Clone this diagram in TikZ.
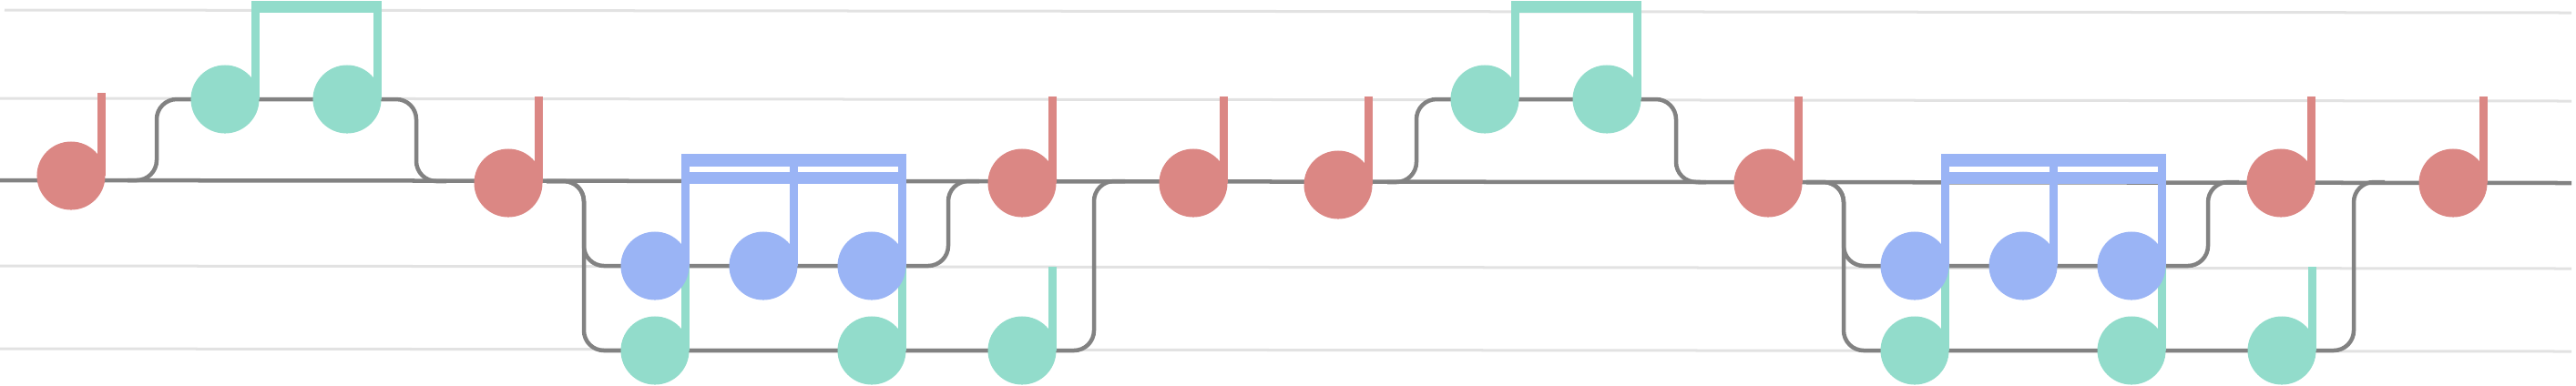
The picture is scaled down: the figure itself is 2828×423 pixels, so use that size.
\documentclass[tikz,border=0pt]{standalone}
\definecolor{notered}{HTML}{DB8784}
\definecolor{noteteal}{HTML}{92DCCB}
\definecolor{noteblue}{HTML}{9AB4F5}
\definecolor{wiregray}{HTML}{828282}
\definecolor{staffgray}{HTML}{E2E2E2}
\pgfdeclarelayer{back}
\pgfsetlayers{back,main}
\begin{document}
\begin{tikzpicture}[x=0.01cm, y=-0.01cm]
    \tikzstyle{staff_style} = [draw=staffgray, line width=0.03cm]
    \tikzstyle{wire_style} = [draw=wiregray, line width=0.045cm, rounded corners=0.22cm]
    \tikzstyle{head_style} = [circle, minimum size=0.75cm, inner sep=0pt]
    \tikzstyle{red_head} = [head_style, fill=notered]
    \tikzstyle{teal_head} = [head_style, fill=noteteal]
    \tikzstyle{blue_head} = [head_style, fill=noteblue]
    \tikzstyle{red_stem} = [draw=notered, line width=0.09cm]
    \tikzstyle{teal_stem} = [draw=noteteal, line width=0.09cm]
    \tikzstyle{blue_stem} = [draw=noteblue, line width=0.09cm]
    \useasboundingbox (0,0) rectangle (2828,423);

    % first bar
    \node[red_head] (r1) at (78,193) {};
    \draw[red_stem] ([xshift=0.33cm]r1.center) -- ++(0,-91);
    \node[teal_head] (t1) at (247,109) {};
    \node[teal_head] (t2) at (381,109) {};
    \draw[teal_stem] ([xshift=0.335cm]t1.center) -- ++(0,-108);
    \draw[teal_stem] ([xshift=0.335cm]t2.center) -- ++(0,-108);
    \fill[noteteal] (276,1) rectangle (419,14);
    \node[red_head] (r2) at (558,201) {};
    \draw[red_stem] ([xshift=0.33cm]r2.center) -- ++(0,-95);
    \node[teal_head] (t3) at (719,385) {};
    \node[teal_head] (t4) at (957,385) {};
    \draw[teal_stem] ([xshift=0.33cm]t3.center) -- ++(0,-93);
    \draw[teal_stem] ([xshift=0.33cm]t4.center) -- ++(0,-93);
    \node[blue_head] (b1) at (719,292) {};
    \node[blue_head] (b2) at (838,292) {};
    \node[blue_head] (b3) at (957,292) {};
    \draw[blue_stem] ([xshift=0.33cm]b1.center) -- ++(0,-123);
    \draw[blue_stem] ([xshift=0.33cm]b2.center) -- ++(0,-123);
    \draw[blue_stem] ([xshift=0.33cm]b3.center) -- ++(0,-123);
    \fill[noteblue] (748,169) rectangle (995,183);
    \fill[noteblue] (748,189) rectangle (995,202);
    \node[teal_head] (t5) at (1122,385) {};
    \draw[teal_stem] ([xshift=0.33cm]t5.center) -- ++(0,-92);
    \node[red_head] (r3) at (1122,201) {};
    \draw[red_stem] ([xshift=0.33cm]r3.center) -- ++(0,-95);
    \node[red_head] (r4) at (1310,201) {};
    \draw[red_stem] ([xshift=0.33cm]r4.center) -- ++(0,-95);

    % second bar
    \node[red_head] (r5) at (1469,203) {};
    \draw[red_stem] ([xshift=0.33cm]r5.center) -- ++(0,-97);
    \node[teal_head] (t6) at (1630,109) {};
    \node[teal_head] (t7) at (1764,109) {};
    \draw[teal_stem] ([xshift=0.335cm]t6.center) -- ++(0,-108);
    \draw[teal_stem] ([xshift=0.335cm]t7.center) -- ++(0,-108);
    \fill[noteteal] (1659,1) rectangle (1802,14);
    \node[red_head] (r6) at (1941,201) {};
    \draw[red_stem] ([xshift=0.33cm]r6.center) -- ++(0,-95);
    \node[teal_head] (t8) at (2102,385) {};
    \node[teal_head] (t9) at (2340,385) {};
    \draw[teal_stem] ([xshift=0.33cm]t8.center) -- ++(0,-93);
    \draw[teal_stem] ([xshift=0.33cm]t9.center) -- ++(0,-93);
    \node[blue_head] (b4) at (2102,292) {};
    \node[blue_head] (b5) at (2221,292) {};
    \node[blue_head] (b6) at (2340,292) {};
    \draw[blue_stem] ([xshift=0.33cm]b4.center) -- ++(0,-123);
    \draw[blue_stem] ([xshift=0.33cm]b5.center) -- ++(0,-123);
    \draw[blue_stem] ([xshift=0.33cm]b6.center) -- ++(0,-123);
    \fill[noteblue] (2131,169) rectangle (2378,183);
    \fill[noteblue] (2131,189) rectangle (2378,202);
    \node[teal_head] (t10) at (2505,385) {};
    \draw[teal_stem] ([xshift=0.33cm]t10.center) -- ++(0,-92);
    \node[red_head] (r7) at (2504,201) {};
    \draw[red_stem] ([xshift=0.33cm]r7.center) -- ++(0,-95);
    \node[red_head] (r8) at (2693,201) {};
    \draw[red_stem] ([xshift=0.33cm]r8.center) -- ++(0,-95);

    % split and join points of the wires
    \coordinate (w0) at (0,198);
    \coordinate (w1) at (2823,201);
    \coordinate (s1) at (140,198);
    \coordinate (s2) at (172,198);
    \coordinate (s3) at (457,199);
    \coordinate (s4) at (490,199);
    \coordinate (s5) at (600,199);
    \coordinate (s6) at (641,199);
    \coordinate (s7) at (1041,199);
    \coordinate (s8) at (1075,199);
    \coordinate (s9) at (1201,199);
    \coordinate (s10) at (1235,199);
    \coordinate (s11) at (1523,200);
    \coordinate (s12) at (1555,200);
    \coordinate (s13) at (1840,200);
    \coordinate (s14) at (1873,200);
    \coordinate (s15) at (1983,200);
    \coordinate (s16) at (2024,200);
    \coordinate (s17) at (2424,200);
    \coordinate (s18) at (2458,200);
    \coordinate (s19) at (2584,200);
    \coordinate (s20) at (2618,200);

    \begin{pgfonlayer}{back}
    \draw[staff_style] (5,11) -- (2823,14);
    \draw[staff_style] (0,108) -- (2823,111);
    \draw[staff_style] (0,292) -- (2823,295);
    \draw[staff_style] (0,383) -- (2823,386);

    \draw[wire_style] (w0) -- (w1);
    \draw[wire_style] (s1) -- (s2) |- (t1.center) -- (t2.center) -| (s3) -- (s4);
    \draw[wire_style] (s5) -- (s6) |- (b1.center) -- (b2.center) -- (b3.center) -| (s7) -- (s8);
    \draw[wire_style] (s5) -- (s6) |- (t3.center) -- (t4.center) -- (t5.center) -| (s9) -- (s10);
    \draw[wire_style] (s11) -- (s12) |- (t6.center) -- (t7.center) -| (s13) -- (s14);
    \draw[wire_style] (s15) -- (s16) |- (b4.center) -- (b5.center) -- (b6.center) -| (s17) -- (s18);
    \draw[wire_style] (s15) -- (s16) |- (t8.center) -- (t9.center) -- (t10.center) -| (s19) -- (s20);
    \end{pgfonlayer}
\end{tikzpicture}
\end{document}
